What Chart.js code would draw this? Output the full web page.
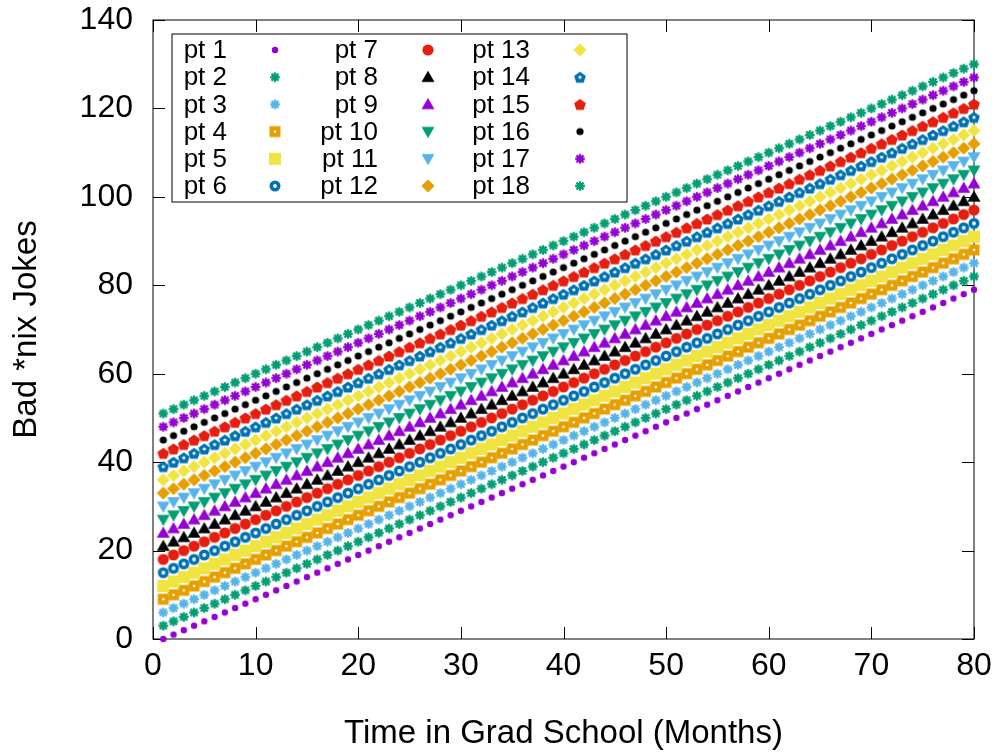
<!DOCTYPE html>
<html lang="en">
<head>
<meta charset="UTF-8">
<title>Bad *nix Jokes</title>
<script src="https://cdn.jsdelivr.net/npm/chart.js@4.4.0/dist/chart.umd.min.js"></script>
<style>
    html, body { margin: 0; padding: 0; background: #fff; }
    #wrap { width: 1000px; height: 754px; }
</style>
</head>
<body>
<div id="wrap"><canvas id="myChart" width="1000" height="754"></canvas></div>
<script>
// x values (months) shared by every series
const months = [
    1,2,3,4,5,6,7,8,9,10,11,12,13,14,15,16,17,18,19,20,
    21,22,23,24,25,26,27,28,29,30,31,32,33,34,35,36,37,38,39,40,
    41,42,43,44,45,46,47,48,49,50,51,52,53,54,55,56,57,58,59,60,
    61,62,63,64,65,66,67,68,69,70,71,72,73,74,75,76,77,78,79,80];

const pt1 = [0,1,2,3,4,5,6,7,8,9,10,11,12,13,14,15,16,17,18,19,
    20,21,22,23,24,25,26,27,28,29,30,31,32,33,34,35,36,37,38,39,
    40,41,42,43,44,45,46,47,48,49,50,51,52,53,54,55,56,57,58,59,
    60,61,62,63,64,65,66,67,68,69,70,71,72,73,74,75,76,77,78,79];
const pt2 = [3,4,5,6,7,8,9,10,11,12,13,14,15,16,17,18,19,20,21,22,
    23,24,25,26,27,28,29,30,31,32,33,34,35,36,37,38,39,40,41,42,
    43,44,45,46,47,48,49,50,51,52,53,54,55,56,57,58,59,60,61,62,
    63,64,65,66,67,68,69,70,71,72,73,74,75,76,77,78,79,80,81,82];
const pt3 = [6,7,8,9,10,11,12,13,14,15,16,17,18,19,20,21,22,23,24,25,
    26,27,28,29,30,31,32,33,34,35,36,37,38,39,40,41,42,43,44,45,
    46,47,48,49,50,51,52,53,54,55,56,57,58,59,60,61,62,63,64,65,
    66,67,68,69,70,71,72,73,74,75,76,77,78,79,80,81,82,83,84,85];
const pt4 = [9,10,11,12,13,14,15,16,17,18,19,20,21,22,23,24,25,26,27,28,
    29,30,31,32,33,34,35,36,37,38,39,40,41,42,43,44,45,46,47,48,
    49,50,51,52,53,54,55,56,57,58,59,60,61,62,63,64,65,66,67,68,
    69,70,71,72,73,74,75,76,77,78,79,80,81,82,83,84,85,86,87,88];
const pt5 = [12,13,14,15,16,17,18,19,20,21,22,23,24,25,26,27,28,29,30,31,
    32,33,34,35,36,37,38,39,40,41,42,43,44,45,46,47,48,49,50,51,
    52,53,54,55,56,57,58,59,60,61,62,63,64,65,66,67,68,69,70,71,
    72,73,74,75,76,77,78,79,80,81,82,83,84,85,86,87,88,89,90,91];
const pt6 = [15,16,17,18,19,20,21,22,23,24,25,26,27,28,29,30,31,32,33,34,
    35,36,37,38,39,40,41,42,43,44,45,46,47,48,49,50,51,52,53,54,
    55,56,57,58,59,60,61,62,63,64,65,66,67,68,69,70,71,72,73,74,
    75,76,77,78,79,80,81,82,83,84,85,86,87,88,89,90,91,92,93,94];
const pt7 = [18,19,20,21,22,23,24,25,26,27,28,29,30,31,32,33,34,35,36,37,
    38,39,40,41,42,43,44,45,46,47,48,49,50,51,52,53,54,55,56,57,
    58,59,60,61,62,63,64,65,66,67,68,69,70,71,72,73,74,75,76,77,
    78,79,80,81,82,83,84,85,86,87,88,89,90,91,92,93,94,95,96,97];
const pt8 = [21,22,23,24,25,26,27,28,29,30,31,32,33,34,35,36,37,38,39,40,
    41,42,43,44,45,46,47,48,49,50,51,52,53,54,55,56,57,58,59,60,
    61,62,63,64,65,66,67,68,69,70,71,72,73,74,75,76,77,78,79,80,
    81,82,83,84,85,86,87,88,89,90,91,92,93,94,95,96,97,98,99,100];
const pt9 = [24,25,26,27,28,29,30,31,32,33,34,35,36,37,38,39,40,41,42,43,
    44,45,46,47,48,49,50,51,52,53,54,55,56,57,58,59,60,61,62,63,
    64,65,66,67,68,69,70,71,72,73,74,75,76,77,78,79,80,81,82,83,
    84,85,86,87,88,89,90,91,92,93,94,95,96,97,98,99,100,101,102,103];
const pt10 = [27,28,29,30,31,32,33,34,35,36,37,38,39,40,41,42,43,44,45,46,
    47,48,49,50,51,52,53,54,55,56,57,58,59,60,61,62,63,64,65,66,
    67,68,69,70,71,72,73,74,75,76,77,78,79,80,81,82,83,84,85,86,
    87,88,89,90,91,92,93,94,95,96,97,98,99,100,101,102,103,104,105,106];
const pt11 = [30,31,32,33,34,35,36,37,38,39,40,41,42,43,44,45,46,47,48,49,
    50,51,52,53,54,55,56,57,58,59,60,61,62,63,64,65,66,67,68,69,
    70,71,72,73,74,75,76,77,78,79,80,81,82,83,84,85,86,87,88,89,
    90,91,92,93,94,95,96,97,98,99,100,101,102,103,104,105,106,107,108,109];
const pt12 = [33,34,35,36,37,38,39,40,41,42,43,44,45,46,47,48,49,50,51,52,
    53,54,55,56,57,58,59,60,61,62,63,64,65,66,67,68,69,70,71,72,
    73,74,75,76,77,78,79,80,81,82,83,84,85,86,87,88,89,90,91,92,
    93,94,95,96,97,98,99,100,101,102,103,104,105,106,107,108,109,110,111,112];
const pt13 = [36,37,38,39,40,41,42,43,44,45,46,47,48,49,50,51,52,53,54,55,
    56,57,58,59,60,61,62,63,64,65,66,67,68,69,70,71,72,73,74,75,
    76,77,78,79,80,81,82,83,84,85,86,87,88,89,90,91,92,93,94,95,
    96,97,98,99,100,101,102,103,104,105,106,107,108,109,110,111,112,113,114,115];
const pt14 = [39,40,41,42,43,44,45,46,47,48,49,50,51,52,53,54,55,56,57,58,
    59,60,61,62,63,64,65,66,67,68,69,70,71,72,73,74,75,76,77,78,
    79,80,81,82,83,84,85,86,87,88,89,90,91,92,93,94,95,96,97,98,
    99,100,101,102,103,104,105,106,107,108,109,110,111,112,113,114,115,116,117,118];
const pt15 = [42,43,44,45,46,47,48,49,50,51,52,53,54,55,56,57,58,59,60,61,
    62,63,64,65,66,67,68,69,70,71,72,73,74,75,76,77,78,79,80,81,
    82,83,84,85,86,87,88,89,90,91,92,93,94,95,96,97,98,99,100,101,
    102,103,104,105,106,107,108,109,110,111,112,113,114,115,116,117,118,119,120,121];
const pt16 = [45,46,47,48,49,50,51,52,53,54,55,56,57,58,59,60,61,62,63,64,
    65,66,67,68,69,70,71,72,73,74,75,76,77,78,79,80,81,82,83,84,
    85,86,87,88,89,90,91,92,93,94,95,96,97,98,99,100,101,102,103,104,
    105,106,107,108,109,110,111,112,113,114,115,116,117,118,119,120,121,122,123,124];
const pt17 = [48,49,50,51,52,53,54,55,56,57,58,59,60,61,62,63,64,65,66,67,
    68,69,70,71,72,73,74,75,76,77,78,79,80,81,82,83,84,85,86,87,
    88,89,90,91,92,93,94,95,96,97,98,99,100,101,102,103,104,105,106,107,
    108,109,110,111,112,113,114,115,116,117,118,119,120,121,122,123,124,125,126,127];
const pt18 = [51,52,53,54,55,56,57,58,59,60,61,62,63,64,65,66,67,68,69,70,
    71,72,73,74,75,76,77,78,79,80,81,82,83,84,85,86,87,88,89,90,
    91,92,93,94,95,96,97,98,99,100,101,102,103,104,105,106,107,108,109,110,
    111,112,113,114,115,116,117,118,119,120,121,122,123,124,125,126,127,128,129,130];

const seriesNames = ['pt 1','pt 2','pt 3','pt 4','pt 5','pt 6','pt 7','pt 8','pt 9',
    'pt 10','pt 11','pt 12','pt 13','pt 14','pt 15','pt 16','pt 17','pt 18'];
const seriesValues = [pt1,pt2,pt3,pt4,pt5,pt6,pt7,pt8,pt9,pt10,pt11,pt12,pt13,pt14,pt15,pt16,pt17,pt18];

const xTicks = [0,10,20,30,40,50,60,70,80];
const yTicks = [0,20,40,60,80,100,120,140];

// gnuplot default colour cycle + marker shapes
const palette = ['#9400d3','#009e73','#56b4e9','#e69f00','#f0e442','#0072b2','#e51e10','#000000'];
const shapes = ['dot','blob','blob','openSquare','square','openCircle','circle','triUp','triUp',
    'triDown','triDown','diamond','diamond','openPentagon','pentagon','bigDot','blob','blob'];

const FONT = "'Liberation Sans', Arial, sans-serif";

function f_poly(g, pts){
    g.beginPath();
    g.moveTo(pts[0][0], pts[0][1]);
    for (var i = 1; i < pts.length; i++) g.lineTo(pts[i][0], pts[i][1]);
    g.closePath();
    g.fill();
}
function f_hole(g, r){
    g.fillStyle = '#fff';
    g.beginPath(); g.arc(0, 0, r, 0, Math.PI*2); g.fill();
}

// 마커 이미지 만들기 (canvas 하나씩)
function f_marker(kind, color){
    var c = document.createElement('canvas');
    c.width = 18; c.height = 18;
    var g = c.getContext('2d');
    g.translate(9, 9);
    g.fillStyle = color; g.strokeStyle = color;
    if (kind == 'dot' || kind == 'bigDot') {
        g.beginPath(); g.arc(0, 0, kind == 'dot' ? 3.2 : 3.6, 0, Math.PI*2); g.fill();
    } else if (kind == 'blob') {
        // 굵은 + 와 x 를 겹친 모양
        g.lineWidth = 2.3;
        g.beginPath();
        g.moveTo(-4.8, 0); g.lineTo(4.8, 0);
        g.moveTo(0, -4.8); g.lineTo(0, 4.8);
        g.moveTo(-3.5, -3.5); g.lineTo(3.5, 3.5);
        g.moveTo(-3.5, 3.5); g.lineTo(3.5, -3.5);
        g.stroke();
    } else if (kind == 'openSquare') {
        g.fillRect(-5.5, -5.5, 11, 11);
        f_hole(g, 1.3);
    } else if (kind == 'square') {
        g.fillRect(-6, -6, 12, 12);
    } else if (kind == 'openCircle') {
        g.beginPath(); g.arc(0, 0, 5.5, 0, Math.PI*2); g.fill();
        f_hole(g, 1.9);
    } else if (kind == 'circle') {
        g.beginPath(); g.arc(0, 0, 5.6, 0, Math.PI*2); g.fill();
    } else if (kind == 'triUp') {
        f_poly(g, [[0,-6.5],[6.5,4.8],[-6.5,4.8]]);
    } else if (kind == 'triDown') {
        f_poly(g, [[0,6.5],[6.5,-4.8],[-6.5,-4.8]]);
    } else if (kind == 'diamond') {
        f_poly(g, [[0,-6.6],[6.6,0],[0,6.6],[-6.6,0]]);
    } else if (kind == 'pentagon' || kind == 'openPentagon') {
        var pts = [];
        for (var k = 0; k < 5; k++) {
            var a = -Math.PI/2 + k*2*Math.PI/5;
            pts.push([6.2*Math.cos(a), 6.2*Math.sin(a) + 0.6]);
        }
        f_poly(g, pts);
        if (kind == 'openPentagon') f_hole(g, 1.6);
    }
    return c;
}

var v_markers = [];
var v_datasets = [];
for (var i = 0; i < seriesValues.length; i++) {
    var col = palette[i % palette.length];
    v_markers.push(f_marker(shapes[i], col));
    var pts = [];
    for (var j = 0; j < months.length; j++) {
        pts.push({x: months[j], y: seriesValues[i][j]});
    }
    v_datasets.push({
        label: seriesNames[i],
        data: pts,
        pointStyle: v_markers[i],
        borderColor: col,
        backgroundColor: col,
        showLine: false,
        clip: false,
        order: seriesValues.length - i   // 뒤 시리즈가 위에 그려지게
    });
}

// 테두리 + 안쪽 눈금 (gnuplot 스타일)
const framePlugin = {
    id: 'frame',
    beforeDatasetsDraw(chart){
        var ctx = chart.ctx, a = chart.chartArea;
        var xs = chart.scales.x, ys = chart.scales.y;
        var TL = 12;
        ctx.save();
        ctx.strokeStyle = '#000';
        ctx.lineWidth = 1;
        ctx.beginPath();
        xTicks.forEach(function(v){
            var px = Math.round(xs.getPixelForValue(v)) + 0.5;
            ctx.moveTo(px, a.bottom); ctx.lineTo(px, a.bottom - TL);
            ctx.moveTo(px, a.top); ctx.lineTo(px, a.top + TL);
        });
        yTicks.forEach(function(v){
            var py = Math.round(ys.getPixelForValue(v)) + 0.5;
            ctx.moveTo(a.left, py); ctx.lineTo(a.left + TL, py);
            ctx.moveTo(a.right, py); ctx.lineTo(a.right - TL, py);
        });
        ctx.stroke();
        ctx.strokeRect(a.left, a.top, a.right - a.left, a.bottom - a.top);
        ctx.restore();
    }
};

// 범례: 3열, 라벨 오른쪽 정렬 + 마커
const keyPlugin = {
    id: 'gpKey',
    afterDatasetsDraw(chart){
        var ctx = chart.ctx;
        var box = {x: 172, y: 34, w: 455, h: 168};
        var textRight = [227, 378, 530];
        var symX = [275, 428, 580];
        var rowY0 = 50, rowH = 27.2;
        ctx.save();
        ctx.strokeStyle = '#000';
        ctx.lineWidth = 1;
        ctx.strokeRect(box.x, box.y, box.w, box.h);
        ctx.font = '26px ' + FONT;
        ctx.fillStyle = '#000';
        ctx.textAlign = 'right';
        ctx.textBaseline = 'middle';
        for (var i = 0; i < seriesNames.length; i++) {
            var c = Math.floor(i / 6), r = i % 6;
            var y = rowY0 + r*rowH;
            ctx.fillText(seriesNames[i], textRight[c], y + 1);
            var m = v_markers[i];
            ctx.drawImage(m, symX[c] - m.width/2, y - m.height/2);
        }
        ctx.restore();
    }
};

const ctx = document.getElementById('myChart').getContext('2d');
const myChart = new Chart(ctx, {
    type: 'scatter',
    data: { datasets: v_datasets },
    options: {
        responsive: false,
        animation: false,
        events: [],
        layout: { padding: { left: 0, top: 20, right: 26, bottom: 0 } },
        plugins: {
            legend: { display: false },
            tooltip: { enabled: false }
        },
        elements: { point: { radius: 6 } },
        scales: {
            x: {
                type: 'linear',
                min: 0, max: 80,
                afterBuildTicks: function(s){ s.ticks = xTicks.map(function(v){ return {value: v}; }); },
                afterFit: function(s){ s.height = 115; },
                grid: { display: false, drawTicks: false },
                border: { display: false },
                ticks: { padding: 8, color: '#000', font: { family: FONT, size: 32 }, maxRotation: 0 },
                title: {
                    display: true,
                    text: 'Time in Grad School (Months)',
                    color: '#000',
                    font: { family: FONT, size: 33 },
                    padding: { top: 0, bottom: 0 }
                }
            },
            y: {
                type: 'linear',
                min: 0, max: 140,
                afterBuildTicks: function(s){ s.ticks = yTicks.map(function(v){ return {value: v}; }); },
                // 눈금 라벨 여백이 위쪽 여백으로 더해지지 않게
                afterFit: function(s){ s.width = 153; s.paddingTop = 0; s.paddingBottom = 0; },
                grid: { display: false, drawTicks: false },
                border: { display: false },
                ticks: { padding: 20, color: '#000', font: { family: FONT, size: 32 } },
                title: {
                    display: true,
                    text: 'Bad *nix Jokes',
                    color: '#000',
                    font: { family: FONT, size: 33 },
                    padding: { top: 7, bottom: 0 }
                }
            }
        }
    },
    plugins: [framePlugin, keyPlugin]
});
</script>
</body>
</html>
